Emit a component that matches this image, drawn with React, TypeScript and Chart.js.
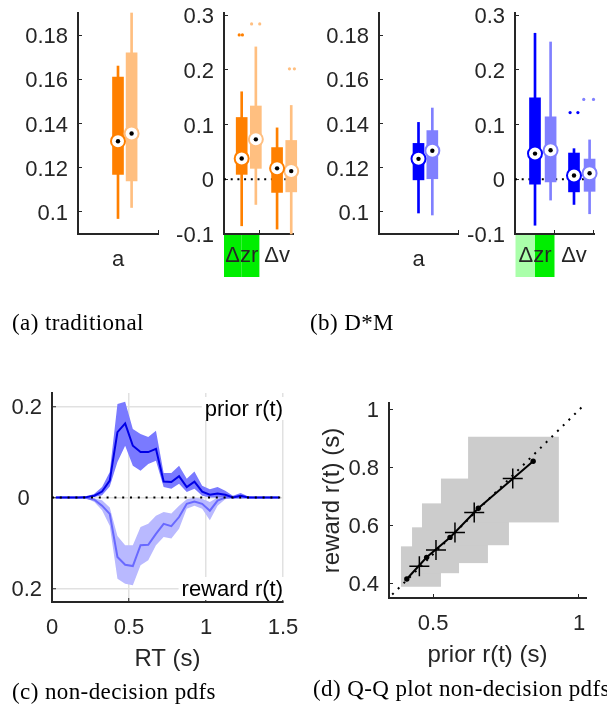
import React, { useEffect, useRef } from 'react';
import { Chart, registerables } from 'chart.js';

Chart.register(...registerables);

const W = 607;
const H = 709;
const SANS = '"Liberation Sans", Arial, Helvetica, sans-serif';
const SERIF = '"Liberation Serif", "Times New Roman", Times, serif';
const INK = '#262626';
Chart.defaults.font.family = SANS;

// ---------------- (a) / (b) box plots ----------------
const aLabels = ['a'];
const deltaLabels = ['Δzr', 'Δv'];
const aTicks = [0.1, 0.12, 0.14, 0.16, 0.18];
const deltaTicks = [-0.1, 0, 0.1, 0.2, 0.3];

// per category: [lower whisker, q1, median, q3, upper whisker]
const tradADark = [[0.097, 0.117, 0.132, 0.161, 0.166]];
const tradALight = [[0.102, 0.114, 0.1355, 0.172, 0.19]];
const tradDeltaDark = [
  [-0.085, 0.009, 0.038, 0.113, 0.16],
  [-0.091, -0.024, 0.02, 0.058, 0.094],
];
const tradDeltaLight = [
  [-0.046, 0.02, 0.073, 0.134, 0.242],
  [-0.1, -0.023, 0.015, 0.071, 0.135],
];
// outliers: [category index, value, jitter]
const tradDeltaDarkOut = [[0, 0.264, -0.07], [0, 0.264, 0.02]];
const tradDeltaLightOut = [[0, 0.284, -0.12], [0, 0.284, 0.11], [1, 0.202, -0.05], [1, 0.202, 0.09]];

const dmADark = [[0.0995, 0.1145, 0.124, 0.131, 0.1405]];
const dmALight = [[0.0986, 0.115, 0.1277, 0.1368, 0.147]];
const dmDeltaDark = [
  [-0.084, -0.009, 0.047, 0.149, 0.267],
  [-0.046, -0.023, 0.007, 0.048, 0.056],
];
const dmDeltaLight = [
  [-0.038, -0.005, 0.053, 0.114, 0.251],
  [-0.063, -0.022, 0.011, 0.037, 0.072],
];
const dmDeltaDarkOut = [[1, 0.122, -0.1], [1, 0.122, 0.1]];
const dmDeltaLightOut = [[1, 0.146, -0.15], [1, 0.146, 0.1]];

// ---------------- (c) non-decision pdfs ----------------
const rtBins = [0.025, 0.075, 0.125, 0.175, 0.225, 0.275, 0.325, 0.375, 0.425, 0.475, 0.525, 0.575, 0.625, 0.675, 0.725,
  0.775, 0.825, 0.875, 0.925, 0.975, 1.025, 1.075, 1.125, 1.175, 1.225, 1.275, 1.325, 1.375, 1.425, 1.475];
const priorMean = [0, 0, 0, 0, 0.001, 0.004, 0.013, 0.037, 0.144, 0.163, 0.114, 0.1, 0.1, 0.107, 0.035,
  0.034, 0.047, 0.023, 0.035, 0.013, 0.006, 0.009, 0.006, 0, 0.004, 0, 0, 0, 0, 0];
const priorUpper = [0, 0, 0, 0, 0.002, 0.008, 0.023, 0.056, 0.206, 0.211, 0.151, 0.14, 0.133, 0.147, 0.054,
  0.054, 0.07, 0.041, 0.057, 0.026, 0.018, 0.023, 0.015, 0.004, 0.01, 0.002, 0, 0, 0, 0];
const priorLower = [0, 0, 0, 0, 0, 0.001, 0.005, 0.024, 0.078, 0.114, 0.07, 0.059, 0.074, 0.081, 0.023,
  0.019, 0.03, 0.012, 0.019, 0.004, 0, 0, 0, 0, 0, 0, 0, 0, 0, 0];
const rewardMean = [0, 0, 0, 0, 0.001, 0.005, 0.018, 0.036, 0.131, 0.148, 0.151, 0.105, 0.104, 0.08, 0.058,
  0.063, 0.043, 0.014, 0.009, 0.014, 0.029, 0.007, 0, 0, 0, 0, 0, 0, 0, 0];
const rewardInner = [0, 0, 0, 0, 0, 0.002, 0.006, 0.022, 0.085, 0.105, 0.105, 0.065, 0.058, 0.04, 0.032,
  0.035, 0.018, 0.004, 0, 0.003, 0.01, 0, 0, 0, 0, 0, 0, 0, 0, 0];
const rewardOuter = [0, 0, 0, 0, 0.002, 0.01, 0.028, 0.062, 0.179, 0.19, 0.193, 0.149, 0.138, 0.105, 0.087,
  0.09, 0.069, 0.025, 0.018, 0.025, 0.05, 0.018, 0.004, 0, 0, 0, 0, 0, 0, 0];
const rtTicks = [0, 0.5, 1, 1.5];
const pdfTicks = [-0.2, 0, 0.2];

// ---------------- (d) Q-Q plot ----------------
const qqPriorQ = [0.453, 0.51, 0.575, 0.641, 0.773];
const qqRewardQ = [0.458, 0.514, 0.575, 0.644, 0.762];
const qqCiPriorLo = [0.39, 0.428, 0.462, 0.527, 0.62];
const qqCiPriorHi = [0.527, 0.589, 0.688, 0.76, 0.931];
const qqCiRewardLo = [0.387, 0.434, 0.469, 0.531, 0.61];
const qqCiRewardHi = [0.527, 0.593, 0.676, 0.762, 0.907];
const qqMeanPrior = [0.41, 0.478, 0.558, 0.655, 0.843];
const qqMeanReward = [0.414, 0.489, 0.558, 0.659, 0.822];
const qqDiag = [0.36, 1.02];
const qqXTicks = [0.5, 1];
const qqYTicks = [0.4, 0.6, 0.8, 1];

// ---------------- helpers ----------------
type Area = { l: number; t: number; r: number; b: number };

function fixedAxis(size: number, horizontal: boolean) {
  return (s: any) => {
    if (horizontal) s.height = size;
    else s.width = size;
    s.paddingLeft = 0;
    s.paddingRight = 0;
    s.paddingTop = 0;
    s.paddingBottom = 0;
  };
}
function setTicks(values: number[]) {
  return (s: any) => {
    s.ticks = values.map((value) => ({ value }));
  };
}
function layoutFor(area: Area, yW: number, xH: number) {
  return {
    autoPadding: false,
    padding: { left: area.l - yW, top: area.t, right: W - area.r, bottom: H - area.b - xH },
  };
}
const tickFont = { family: SANS, size: 22, lineHeight: 1.2 };
const titleFont = { family: SANS, size: 24, lineHeight: 1.2 };
const axisGrid = { display: true, drawOnChartArea: false, drawTicks: true, tickLength: -4, tickColor: INK, tickWidth: 1 };
const axisBorder = { display: true, color: INK, width: 2 };
const baseOptions = {
  responsive: false,
  animation: false,
  devicePixelRatio: 1,
  events: [],
  plugins: { legend: { display: false }, tooltip: { enabled: false } },
};

function highlightPlugin(at: number, colors: string[], height: number) {
  return {
    id: 'catHighlight',
    beforeDraw(chart: any) {
      const { ctx, chartArea, scales } = chart;
      const x = scales.x;
      const p0 = x.getPixelForValue(at - 0.5);
      const p1 = x.getPixelForValue(at);
      const p2 = x.getPixelForValue(at + 0.5);
      ctx.save();
      ctx.fillStyle = colors[0];
      ctx.fillRect(p0, chartArea.bottom, p1 - p0, height);
      ctx.fillStyle = colors[1];
      ctx.fillRect(p1, chartArea.bottom, p2 - p1, height);
      ctx.restore();
    },
  };
}

function textPlugin(items: { text: string; fromTop: boolean; dy: number }[]) {
  return {
    id: 'cornerTexts',
    afterDatasetsDraw(chart: any) {
      const { ctx, chartArea } = chart;
      ctx.save();
      ctx.font = `22px ${SANS}`;
      ctx.textAlign = 'right';
      ctx.textBaseline = 'alphabetic';
      for (const it of items) {
        const y = it.fromTop ? chartArea.top + it.dy : chartArea.bottom + it.dy;
        const w = ctx.measureText(it.text).width;
        ctx.fillStyle = '#fff';
        ctx.fillRect(chartArea.right - w - 3, y - 19, w + 5, 23);
        ctx.fillStyle = '#000';
        ctx.fillText(it.text, chartArea.right, y);
      }
      ctx.restore();
    },
  };
}

function rectPlugin() {
  return {
    id: 'ciRects',
    beforeDatasetsDraw(chart: any) {
      const { ctx, chartArea, scales } = chart;
      const x = scales.x;
      const y = scales.y;
      ctx.save();
      ctx.beginPath();
      ctx.rect(chartArea.left, chartArea.top, chartArea.right - chartArea.left, chartArea.bottom - chartArea.top);
      ctx.clip();
      ctx.fillStyle = 'rgb(204,204,204)';
      qqCiPriorLo.forEach((_, i) => {
        const x0 = x.getPixelForValue(qqCiPriorLo[i]);
        const x1 = x.getPixelForValue(qqCiPriorHi[i]);
        const y0 = y.getPixelForValue(qqCiRewardHi[i]);
        const y1 = y.getPixelForValue(qqCiRewardLo[i]);
        ctx.fillRect(x0, y0, x1 - x0, y1 - y0);
      });
      ctx.restore();
    },
  };
}

type BoxOpts = {
  area: Area;
  labels: string[];
  xMin: number;
  xMax: number;
  shift: number;
  yMin: number;
  yMax: number;
  yTicks: number[];
  dark: number[][];
  light: number[][];
  darkOut: number[][];
  lightOut: number[][];
  darkColor: string;
  lightColor: string;
  zero: boolean;
  labelPad: number;
  highlight?: string[];
};

function boxChart(o: BoxOpts) {
  const pos = o.labels.map((_, i) => i + 1);
  const datasets: any[] = [];
  const groups = [
    { s: o.dark, out: o.darkOut, color: o.darkColor, dx: 0 },
    { s: o.light, out: o.lightOut, color: o.lightColor, dx: o.shift },
  ];
  for (const g of groups) {
    const at = (i: number) => pos[i] + g.dx;
    datasets.push({
      type: 'scatter', data: g.s.map((v, i) => ({ x: at(i), y: v[2] })), clip: false,
      pointRadius: 2.2, pointBackgroundColor: '#000', pointBorderWidth: 0, order: 0,
    });
    datasets.push({
      type: 'scatter', data: g.s.map((v, i) => ({ x: at(i), y: v[2] })), clip: false,
      pointRadius: 7, pointBackgroundColor: '#fff', pointBorderColor: g.color, pointBorderWidth: 2, order: 1,
    });
    datasets.push({
      type: 'scatter', data: g.out.map((p) => ({ x: at(p[0]) + p[2], y: p[1] })), clip: false,
      pointRadius: 1.6, pointBackgroundColor: g.color, pointBorderWidth: 0, order: 2,
    });
    datasets.push({
      type: 'bar', data: g.s.map((v, i) => ({ x: at(i), y: [v[1], v[3]] })), clip: false,
      backgroundColor: g.color, barThickness: 11, grouped: false, borderWidth: 0, order: 3,
    });
    datasets.push({
      type: 'bar', data: g.s.map((v, i) => ({ x: at(i), y: [v[0], v[4]] })), clip: false,
      backgroundColor: g.color, barThickness: 2, grouped: false, borderWidth: 0, order: 4,
    });
  }
  if (o.zero) {
    datasets.push({
      type: 'line', data: [{ x: o.xMin, y: 0 }, { x: o.xMax, y: 0 }],
      borderColor: '#000', borderWidth: 2, borderDash: [2, 4.7], pointRadius: 0, order: 5,
    });
  }
  const plugins: any[] = [];
  if (o.highlight) plugins.push(highlightPlugin(1, o.highlight, 43));
  return {
    type: 'scatter',
    data: { datasets },
    plugins,
    options: {
      ...baseOptions,
      layout: layoutFor(o.area, 70, 60),
      scales: {
        x: {
          type: 'linear', min: o.xMin, max: o.xMax, offset: false,
          afterBuildTicks: setTicks(pos),
          afterFit: fixedAxis(60, true),
          ticks: {
            callback: (_v: any, i: number) => o.labels[i],
            font: tickFont, color: INK, padding: o.labelPad, maxRotation: 0, autoSkip: false,
          },
          grid: axisGrid,
          border: axisBorder,
        },
        y: {
          type: 'linear', min: o.yMin, max: o.yMax,
          afterBuildTicks: setTicks(o.yTicks),
          afterFit: fixedAxis(70, false),
          ticks: {
            callback: (v: number) => String(v),
            font: tickFont, color: INK, padding: 14, labelOffset: 2, autoSkip: false,
          },
          grid: axisGrid,
          border: axisBorder,
        },
      },
    },
  };
}

const ORANGE = 'rgb(255,128,0)';
const ORANGE_LIGHT = 'rgb(255,191,128)';
const BLUE = 'rgb(0,0,255)';
const BLUE_LIGHT = 'rgb(128,128,255)';
const GREEN = 'rgb(0,238,0)';
const GREEN_LIGHT = 'rgb(170,255,170)';

const panelAL = () => boxChart({
  area: { l: 78, t: 13, r: 158, b: 234 }, labels: aLabels, xMin: 0, xMax: 2, shift: 0.34,
  yMin: 0.09, yMax: 0.19, yTicks: aTicks, dark: tradADark, light: tradALight, darkOut: [], lightOut: [],
  darkColor: ORANGE, lightColor: ORANGE_LIGHT, zero: false, labelPad: 16.8,
});
const panelAR = () => boxChart({
  area: { l: 224, t: 13, r: 293, b: 234 }, labels: deltaLabels, xMin: 0.5, xMax: 2.45, shift: 0.4,
  yMin: -0.1, yMax: 0.304, yTicks: deltaTicks, dark: tradDeltaDark, light: tradDeltaLight,
  darkOut: tradDeltaDarkOut, lightOut: tradDeltaLightOut,
  darkColor: ORANGE, lightColor: ORANGE_LIGHT, zero: true, labelPad: 12.8, highlight: [GREEN, GREEN],
});
const panelBL = () => boxChart({
  area: { l: 379, t: 13, r: 458, b: 234 }, labels: aLabels, xMin: 0, xMax: 2, shift: 0.35,
  yMin: 0.09, yMax: 0.19, yTicks: aTicks, dark: dmADark, light: dmALight, darkOut: [], lightOut: [],
  darkColor: BLUE, lightColor: BLUE_LIGHT, zero: false, labelPad: 16.8,
});
const panelBR = () => boxChart({
  area: { l: 515, t: 13, r: 594, b: 234 }, labels: deltaLabels, xMin: 0.487, xMax: 2.513, shift: 0.4,
  yMin: -0.1, yMax: 0.304, yTicks: deltaTicks, dark: dmDeltaDark, light: dmDeltaLight,
  darkOut: dmDeltaDarkOut, lightOut: dmDeltaLightOut,
  darkColor: BLUE, lightColor: BLUE_LIGHT, zero: true, labelPad: 12.8, highlight: [GREEN_LIGHT, GREEN],
});

const GRID = 'rgb(225,225,225)';
const panelC = () => {
  const area = { l: 52, t: 393, r: 283, b: 602 };
  const pts = (arr: number[], sign = 1) => rtBins.map((x, i) => ({ x, y: sign * arr[i] }));
  const none = 'rgba(0,0,0,0)';
  return {
    type: 'line',
    data: {
      datasets: [
        { data: [{ x: 0, y: 0 }, { x: 1.5, y: 0 }], borderColor: '#000', borderWidth: 2, borderDash: [2, 5.8], pointRadius: 0, order: 0 },
        { data: pts(priorMean), borderColor: 'rgb(0,0,230)', borderWidth: 2, pointRadius: 0, order: 1 },
        { data: pts(rewardMean, -1), borderColor: 'rgb(105,105,255)', borderWidth: 2, pointRadius: 0, order: 2 },
        { data: pts(priorLower), borderColor: none, borderWidth: 0, pointRadius: 0, order: 3 },
        { data: pts(priorUpper), borderColor: none, borderWidth: 0, pointRadius: 0, fill: '-1', backgroundColor: 'rgb(122,122,255)', order: 3 },
        { data: pts(rewardInner, -1), borderColor: none, borderWidth: 0, pointRadius: 0, order: 4 },
        { data: pts(rewardOuter, -1), borderColor: none, borderWidth: 0, pointRadius: 0, fill: '-1', backgroundColor: 'rgb(185,185,255)', order: 4 },
      ],
    },
    plugins: [textPlugin([
      { text: 'prior r(t)', fromTop: true, dy: 23 },
      { text: 'reward r(t)', fromTop: false, dy: -6 },
    ])],
    options: {
      ...baseOptions,
      layout: layoutFor(area, 50, 72),
      scales: {
        x: {
          type: 'linear', min: 0, max: 1.5,
          afterBuildTicks: setTicks(rtTicks),
          afterFit: fixedAxis(72, true),
          ticks: { callback: (v: number) => String(v), font: tickFont, color: INK, padding: 16.8, maxRotation: 0, autoSkip: false },
          grid: { display: true, drawOnChartArea: true, color: GRID, lineWidth: 1.5, drawTicks: true, tickLength: -4, tickColor: INK, tickWidth: 1 },
          border: axisBorder,
          title: { display: true, text: 'RT (s)', font: titleFont, color: INK, padding: 0 },
        },
        y: {
          type: 'linear', min: -0.23, max: 0.23,
          afterBuildTicks: setTicks(pdfTicks),
          afterFit: fixedAxis(50, false),
          ticks: {
            callback: (v: number) => (v === 0 ? '0  ' : String(Math.abs(v))),
            font: tickFont, color: INK, padding: 14, labelOffset: 1.5, autoSkip: false,
          },
          grid: { display: true, drawOnChartArea: true, color: GRID, lineWidth: 1.5, drawTicks: true, tickLength: -4, tickColor: INK, tickWidth: 1 },
          border: axisBorder,
        },
      },
    },
  };
};

const panelD = () => {
  const area = { l: 389, t: 403, r: 586, b: 598 };
  return {
    type: 'scatter',
    data: {
      datasets: [
        {
          data: qqPriorQ.map((x, i) => ({ x, y: qqRewardQ[i] })),
          pointStyle: 'cross', pointRadius: 10, pointBorderColor: '#000', pointBorderWidth: 1.5, order: 0,
        },
        {
          type: 'line', data: qqMeanPrior.map((x, i) => ({ x, y: qqMeanReward[i] })),
          borderColor: '#000', borderWidth: 2, pointRadius: 2.7, pointBackgroundColor: '#000', pointBorderWidth: 0, order: 1,
        },
        {
          type: 'line', data: qqDiag.map((v) => ({ x: v, y: v })),
          borderColor: '#000', borderWidth: 2, borderDash: [2, 6], pointRadius: 0, order: 2,
        },
      ],
    },
    plugins: [rectPlugin()],
    options: {
      ...baseOptions,
      layout: layoutFor(area, 71, 72),
      scales: {
        x: {
          type: 'linear', min: 0.349, max: 1.024,
          afterBuildTicks: setTicks(qqXTicks),
          afterFit: fixedAxis(72, true),
          ticks: { callback: (v: number) => String(v), font: tickFont, color: INK, padding: 16.8, maxRotation: 0, autoSkip: false },
          grid: axisGrid,
          border: axisBorder,
          title: { display: true, text: 'prior r(t) (s)', font: titleFont, color: INK, padding: 0 },
        },
        y: {
          type: 'linear', min: 0.348, max: 1.024,
          afterBuildTicks: setTicks(qqYTicks),
          afterFit: fixedAxis(71, false),
          ticks: { callback: (v: number) => String(v), font: tickFont, color: INK, padding: 14, labelOffset: 1.5, autoSkip: false },
          grid: axisGrid,
          border: axisBorder,
          title: { display: true, text: 'reward r(t) (s)', font: titleFont, color: INK, padding: 0 },
        },
      },
    },
  };
};

function ChartCanvas({ make }: { make: () => any }) {
  const ref = useRef<HTMLCanvasElement>(null);
  useEffect(() => {
    const chart = new Chart(ref.current as HTMLCanvasElement, make());
    return () => chart.destroy();
  }, [make]);
  return (
    <canvas
      ref={ref}
      width={W}
      height={H}
      style={{ position: 'absolute', left: 0, top: 0, width: W, height: H }}
    />
  );
}

function Caption({ left, top, text }: { left: number; top: number; text: string }) {
  return (
    <div
      style={{
        position: 'absolute', left, top, font: `23px ${SERIF}`, lineHeight: '22px',
        letterSpacing: '0.4px', whiteSpace: 'nowrap', color: '#000',
      }}
    >
      {text}
    </div>
  );
}

export default function App() {
  return (
    <div style={{ position: 'absolute', left: 0, top: 0, width: W, height: H, overflow: 'hidden', background: '#fff' }}>
      <ChartCanvas make={panelAL} />
      <ChartCanvas make={panelAR} />
      <ChartCanvas make={panelBL} />
      <ChartCanvas make={panelBR} />
      <ChartCanvas make={panelC} />
      <ChartCanvas make={panelD} />
      <Caption left={12} top={312} text="(a) traditional" />
      <Caption left={310} top={312} text="(b) D*M" />
      <Caption left={12} top={681} text="(c) non-decision pdfs" />
      <Caption left={313} top={678} text="(d) Q-Q plot non-decision pdfs" />
    </div>
  );
}
